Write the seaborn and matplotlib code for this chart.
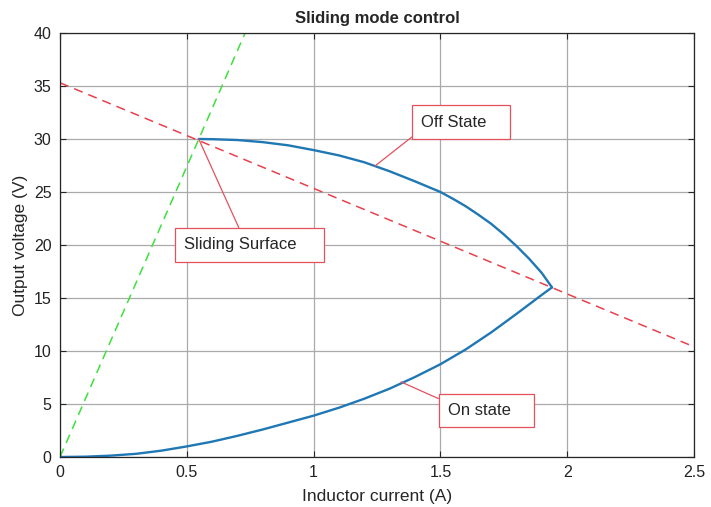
import matplotlib
matplotlib.use("Agg")
import matplotlib.pyplot as plt
import seaborn as sns
import pandas as pd

# ---- data ----
off_x = [0.547, 0.6, 0.7, 0.8, 0.9, 1.0, 1.1, 1.2, 1.3, 1.4, 1.5, 1.55, 1.6, 1.65, 1.7, 1.75, 1.8, 1.85, 1.9, 1.94]
off_y = [30.0, 29.98, 29.9, 29.7, 29.4, 28.95, 28.45, 27.8, 26.95, 26.0, 25.0, 24.35, 23.65, 22.85, 22.0, 21.0, 19.9, 18.7, 17.35, 16.0]

on_x = [0.0, 0.1, 0.2, 0.3, 0.4, 0.5, 0.6, 0.7, 0.8, 0.9, 1.0, 1.1, 1.2, 1.3, 1.4, 1.5, 1.6, 1.7, 1.8, 1.9, 1.94]
on_y = [0.0, 0.03, 0.13, 0.3, 0.6, 1.0, 1.45, 2.0, 2.6, 3.25, 3.9, 4.65, 5.5, 6.45, 7.55, 8.75, 10.15, 11.75, 13.5, 15.3, 16.0]

surf_x = [0.0, 2.5]
surf_y = [35.3, 10.4]

green_x = [0.0, 0.73]
green_y = [0.0, 40.0]

x_ticks = [0, 0.5, 1, 1.5, 2, 2.5]
x_tick_labels = ["0", "0.5", "1", "1.5", "2", "2.5"]
y_ticks = [0, 5, 10, 15, 20, 25, 30, 35, 40]

title = "Sliding mode control"
x_label = "Inductor current (A)"
y_label = "Output voltage (V)"

# ---- plotting ----
sns.set_theme(style="white")
plt.rcParams["font.family"] = ["Liberation Sans", "DejaVu Sans"]

fig = plt.figure(figsize=(7.11, 5.07), dpi=100)
ax = fig.add_axes([0.0844, 0.0986, 0.8917, 0.8364])

blue = "#1f77b4"
red = "#e8404c"
green = "#3ee03e"
ann_red = "#e5505e"

df_off = pd.DataFrame({"x": off_x, "y": off_y})
df_on = pd.DataFrame({"x": on_x, "y": on_y})
df_surf = pd.DataFrame({"x": surf_x, "y": surf_y})
df_green = pd.DataFrame({"x": green_x, "y": green_y})

sns.lineplot(data=df_surf, x="x", y="y", ax=ax, color=red, lw=1.1, sort=False)
sns.lineplot(data=df_green, x="x", y="y", ax=ax, color=green, lw=1.1, sort=False)
for ln in ax.lines:
    ln.set_dashes((6, 4))
sns.lineplot(data=df_off, x="x", y="y", ax=ax, color=blue, lw=1.7, sort=False)
sns.lineplot(data=df_on, x="x", y="y", ax=ax, color=blue, lw=1.7, sort=False)
for ln in ax.lines[2:]:
    ln.set_solid_joinstyle("round")
    ln.set_solid_capstyle("round")

ax.set_xlim(0, 2.5)
ax.set_ylim(0, 40)
ax.set_xticks(x_ticks)
ax.set_xticklabels(x_tick_labels)
ax.set_yticks(y_ticks)
ax.grid(True, color="#aaaaaa", lw=0.9)
ax.set_axisbelow(True)
for s in ax.spines.values():
    s.set_color("#262626")
    s.set_linewidth(0.9)
ax.tick_params(direction="in", length=4, width=0.8, colors="#262626",
               labelsize=11.5, top=True, right=True, bottom=True, left=True,
               labeltop=False, labelright=False, pad=6)
for lab in ax.get_xticklabels() + ax.get_yticklabels():
    lab.set_color("#222222")

ax.set_title(title, fontsize=12, fontweight="bold", pad=7)
ax.set_xlabel(x_label, fontsize=12.5, labelpad=6)
ax.set_ylabel(y_label, fontsize=12.5, labelpad=4)

bbox = dict(boxstyle="square,pad=0.55", fc="white", ec=ann_red, lw=0.9)

def arrow(rel):
    return dict(arrowstyle="-", color=ann_red, lw=0.9, shrinkA=0, shrinkB=0,
                relpos=rel)

ax.annotate("Off State   ", xy=(1.242, 27.45), xytext=(1.425, 31.6),
            fontsize=12, ha="left", va="center", bbox=bbox, arrowprops=arrow((0, 0)))
ax.annotate("Sliding Surface    ", xy=(0.547, 30.0), xytext=(0.49, 20.0),
            fontsize=12, ha="left", va="center", bbox=bbox, arrowprops=arrow((0.45, 1)))
ax.annotate("On state   ", xy=(1.345, 7.08), xytext=(1.53, 4.4),
            fontsize=12, ha="left", va="center", bbox=bbox, arrowprops=arrow((0, 1)))

fig.savefig("out.png", dpi=100)
